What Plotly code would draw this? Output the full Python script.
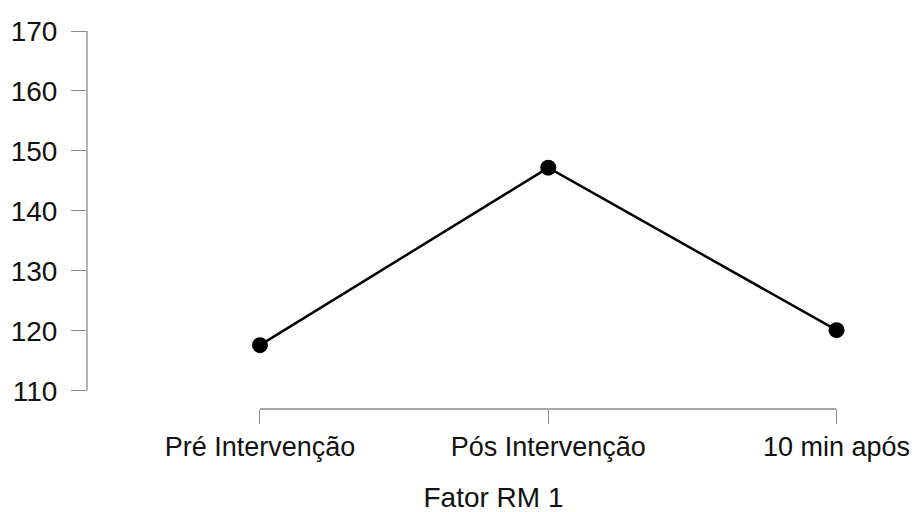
import plotly.graph_objects as go

categories = ["Pré Intervenção", "Pós Intervenção", "10 min após"]
values = [117.6, 147.2, 120.1]
y_ticks = [110, 120, 130, 140, 150, 160, 170]
x_title = "Fator RM 1"

xpos = list(range(len(categories)))
axis_color = "#8a8a8a"
font_family = "Liberation Sans, Arial, sans-serif"

fig = go.Figure()
fig.add_trace(go.Scatter(
    x=xpos, y=values, mode="lines+markers",
    line=dict(color="black", width=2.5),
    marker=dict(color="black", size=16),
    showlegend=False, hoverinfo="skip",
))

fig.update_layout(
    width=919, height=512,
    margin=dict(l=79, r=27, t=23, b=111),
    paper_bgcolor="white", plot_bgcolor="white",
    font=dict(family=font_family, color="#111111"),
    xaxis=dict(
        range=[-0.6, 2.22],
        tickvals=xpos, ticktext=categories,
        ticks="outside", ticklen=14, tickwidth=1.3, tickcolor=axis_color,
        showline=False, showgrid=False, zeroline=False,
        automargin=False,
        tickfont=dict(size=27, color="#111111"),
        ticklabelstandoff=0,
        title=dict(text=x_title, font=dict(size=28, color="#111111"), standoff=25),
    ),
    yaxis=dict(
        range=[106.95, 170],
        tickvals=y_ticks,
        ticks="outside", ticklen=15, tickwidth=1.3, tickcolor=axis_color,
        showline=False, showgrid=False, zeroline=False,
        automargin=False,
        tickfont=dict(size=28, color="#111111"),
        ticklabelstandoff=8,
    ),
    shapes=[
        dict(type="line", xref="paper", yref="y", x0=0, x1=0,
             y0=min(y_ticks), y1=max(y_ticks),
             line=dict(color=axis_color, width=1.3)),
        dict(type="line", xref="x", yref="paper", x0=xpos[0], x1=xpos[-1],
             y0=0, y1=0, line=dict(color=axis_color, width=1.3)),
    ],
)

fig.write_html("out.html")
